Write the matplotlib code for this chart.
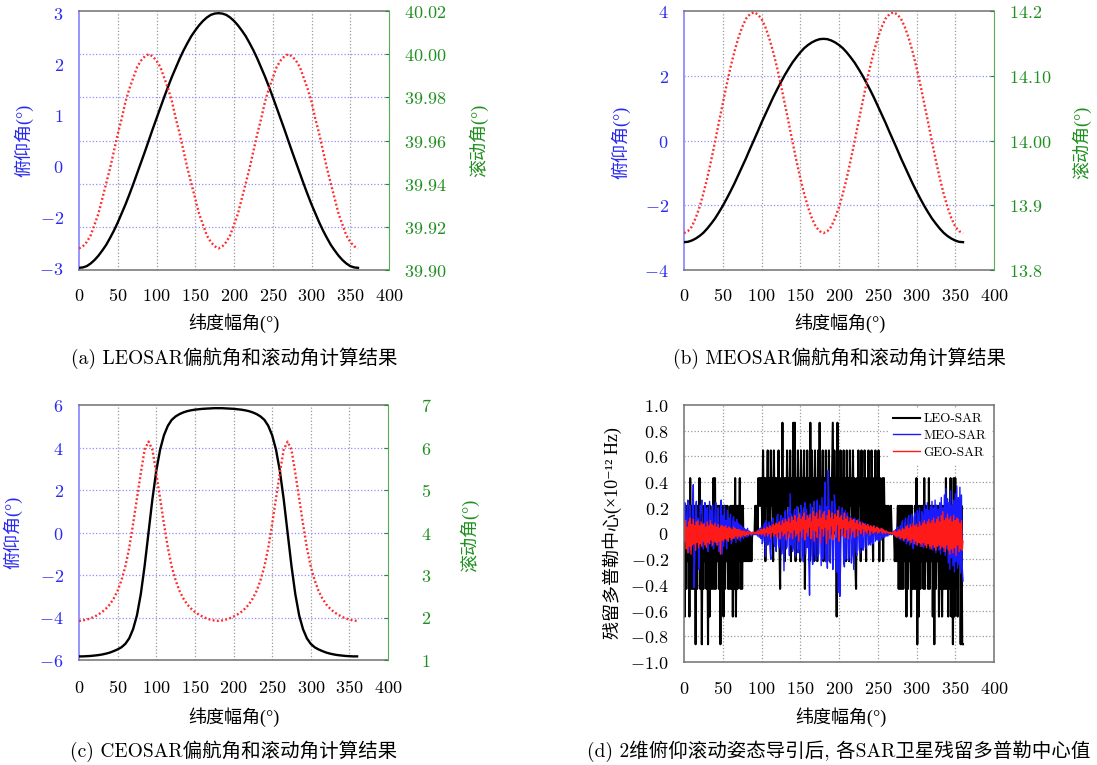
import numpy as np
import matplotlib.pyplot as plt

plt.rcParams['mathtext.fontset'] = 'cm'

FW, FH = 1097, 765
SERIF = ['cmr10', 'Noto Sans CJK SC', 'DejaVu Serif']
LABEL = ['Liberation Serif', 'Noto Sans CJK SC', 'DejaVu Serif']
BLUE, GREEN = '#2a2af0', '#1f8f1f'
LSPINE, RSPINE, FRAME = '#8c8cff', '#5aaa5a', '#707070'
HGRID, VGRID = '#8f8fff', '#9a9a9a'

# latitude argument, attitude curves sampled every 5 deg
U5 = np.arange(0, 361, 5)
XT = [0, 50, 100, 150, 200, 250, 300, 350, 400]

# (a) LEO-SAR pitch (left) and roll (right), deg
LEO_PITCH = [-2.95, -2.94, -2.91, -2.85, -2.77, -2.67, -2.55, -2.42, -2.26, -2.09,
             -1.90, -1.69, -1.48, -1.25, -1.01, -0.76, -0.51, -0.26, 0.00,
             0.26, 0.51, 0.76, 1.01, 1.25, 1.48, 1.69, 1.90, 2.09, 2.26, 2.42,
             2.55, 2.67, 2.77, 2.85, 2.91, 2.94, 2.95,
             2.94, 2.91, 2.85, 2.77, 2.67, 2.55, 2.42, 2.26, 2.09, 1.90, 1.69,
             1.48, 1.25, 1.01, 0.76, 0.51, 0.26, 0.00,
             -0.26, -0.51, -0.76, -1.01, -1.25, -1.48, -1.69, -1.90, -2.09, -2.26,
             -2.42, -2.55, -2.67, -2.77, -2.85, -2.91, -2.94, -2.95]
LEO_ROLL = [39.910, 39.911, 39.913, 39.916, 39.921, 39.926, 39.933, 39.940, 39.947, 39.955,
            39.963, 39.970, 39.978, 39.984, 39.989, 39.994, 39.997, 39.999, 40.000,
            39.999, 39.997, 39.994, 39.989, 39.984, 39.978, 39.970, 39.963, 39.955,
            39.947, 39.940, 39.933, 39.926, 39.921, 39.916, 39.913, 39.911, 39.910,
            39.911, 39.913, 39.916, 39.921, 39.926, 39.933, 39.940, 39.947, 39.955,
            39.963, 39.970, 39.978, 39.984, 39.989, 39.994, 39.997, 39.999, 40.000,
            39.999, 39.997, 39.994, 39.989, 39.984, 39.978, 39.970, 39.963, 39.955,
            39.947, 39.940, 39.933, 39.926, 39.921, 39.916, 39.913, 39.911, 39.910]

# (b) MEO-SAR
MEO_PITCH = [-3.14, -3.13, -3.09, -3.03, -2.95, -2.85, -2.72, -2.57, -2.41, -2.22,
             -2.02, -1.80, -1.57, -1.33, -1.07, -0.81, -0.55, -0.27, 0.00,
             0.27, 0.55, 0.81, 1.07, 1.33, 1.57, 1.80, 2.02, 2.22, 2.41, 2.57,
             2.72, 2.85, 2.95, 3.03, 3.09, 3.13, 3.14,
             3.13, 3.09, 3.03, 2.95, 2.85, 2.72, 2.57, 2.41, 2.22, 2.02, 1.80,
             1.57, 1.33, 1.07, 0.81, 0.55, 0.27, 0.00,
             -0.27, -0.55, -0.81, -1.07, -1.33, -1.57, -1.80, -2.02, -2.22, -2.41,
             -2.57, -2.72, -2.85, -2.95, -3.03, -3.09, -3.13, -3.14]
MEO_ROLL = [13.857, 13.860, 13.867, 13.880, 13.897, 13.918, 13.942, 13.969, 13.998, 14.028,
            14.057, 14.086, 14.113, 14.137, 14.158, 14.175, 14.188, 14.195, 14.198,
            14.195, 14.188, 14.175, 14.158, 14.137, 14.113, 14.086, 14.057, 14.028,
            13.998, 13.969, 13.942, 13.918, 13.897, 13.880, 13.867, 13.860, 13.857,
            13.860, 13.867, 13.880, 13.897, 13.918, 13.942, 13.969, 13.998, 14.028,
            14.057, 14.086, 14.113, 14.137, 14.158, 14.175, 14.188, 14.195, 14.198,
            14.195, 14.188, 14.175, 14.158, 14.137, 14.113, 14.086, 14.057, 14.028,
            13.998, 13.969, 13.942, 13.918, 13.897, 13.880, 13.867, 13.860, 13.857]

# (c) CEO-SAR
CEO_PITCH = [-5.83, -5.83, -5.82, -5.81, -5.79, -5.77, -5.74, -5.70, -5.65, -5.58,
             -5.50, -5.40, -5.24, -4.98, -4.55, -3.90, -2.90, -1.56, 0.00,
             1.56, 2.90, 3.90, 4.58, 5.02, 5.30, 5.46, 5.57, 5.65, 5.71, 5.75,
             5.78, 5.80, 5.82, 5.83, 5.84, 5.85, 5.85,
             5.85, 5.84, 5.83, 5.82, 5.80, 5.78, 5.75, 5.71, 5.65, 5.57, 5.46,
             5.30, 5.02, 4.58, 3.90, 2.90, 1.56, 0.00,
             -1.56, -2.90, -3.90, -4.55, -4.98, -5.24, -5.40, -5.50, -5.58, -5.65,
             -5.70, -5.74, -5.77, -5.79, -5.81, -5.82, -5.83, -5.83]
CEO_ROLL = [1.92, 1.93, 1.95, 1.98, 2.02, 2.07, 2.13, 2.21, 2.31, 2.45,
            2.63, 2.88, 3.20, 3.64, 4.20, 4.80, 5.40, 5.95, 6.14,
            5.95, 5.40, 4.80, 4.20, 3.64, 3.20, 2.88, 2.63, 2.45, 2.31, 2.21,
            2.13, 2.07, 2.02, 1.98, 1.95, 1.93, 1.92,
            1.93, 1.95, 1.98, 2.02, 2.07, 2.13, 2.21, 2.31, 2.45, 2.63, 2.88,
            3.20, 3.64, 4.20, 4.80, 5.40, 5.95, 6.14,
            5.95, 5.40, 4.80, 4.20, 3.64, 3.20, 2.88, 2.63, 2.45, 2.31,
            2.21, 2.13, 2.07, 2.02, 1.98, 1.95, 1.93, 1.92]

# (d) residual Doppler centroid, one sample per degree (0..360)
# LEO-SAR is quantised: digit d -> (d - 4) quantisation steps
LEO_Q = 0.2155
LEO_DIGITS = (
    "5152535162" "5242505253" "6250525352" "5051524262" "6253525052"
    "5152535242" "5251526152" "5362525343" "4343434344" "4454546565"
    "6474636574" "6475637464" "6474264846" "3647564736" "4848364756"
    "3746572647" "4638475637" "4637484657" "3647465736" "4684756184"
    "6374657463" "7463756474" "6326475637" "4647536474" "6475364746"
    "4736546364" "5454544544" "4434345252" "5252535152" "5351524252"
    "6051525352" "6253526253" "5150525351" "5241525262" "5152615061"
    "6251535050" "0")
# MEO / GEO in units of 0.01 (x1e-12 Hz)
MEO_CENT = [5, 24, 12, -8, 18, 26, -15, 2, 22, -12,
            -5, 14, 38, -42, -18, 20, 25, -6, 12, -28,
            -10, 22, 16, 26, -4, -12, 3, 24, -8, 10,
            20, -14, -5, 25, 0, 18, -10, 22, -12, -6,
            15, 24, -9, 2, 20, -14, -8, 12, 26, -16,
            14, -10, 22, -4, 10, -12, 18, -6, 12, -3,
            15, -8, -6, 10, 13, -4, 9, -7, 11, -2,
            8, -5, 7, -6, 6, -3, 5, -4, 4, -2,
            3, -3, 4, -2, 2, -1, 1, -2, 0, 1,
            -1, 0, 1, -1, 2, -2, 3, -3, 4, -4,
            5, -8, -5, 6, 8, -18, 10, 7, -9, -6,
            9, -12, -20, 8, 11, 12, -7, -10, 6, -14,
            13, 15, -9, -11, 10, 14, -16, -8, 12, -29,
            16, 18, -12, -10, 14, 20, -17, 31, -9, 15,
            -14, -11, 17, 19, -18, 13, 21, -15, -12, 16,
            -19, 22, 18, -13, -22, 15, 24, -16, 19, -11,
            14, -20, -48, 23, 20, -17, -24, 18, 25, -14,
            -21, 16, 26, -18, -15, 22, 19, -25, 28, -20,
            -16, 24, 40, -22, 21, -27, 49, 26, -19, -23,
            20, 25, -28, -18, 30, 22, -24, -30, 18, -46,
            21, -49, -25, 17, 20, 15, -22, -26, 18, -20,
            14, 16, -21, -18, 12, 13, -23, -15, 11, -28,
            12, 10, -14, -17, 9, 11, -12, -15, 8, -11,
            9, -13, -10, 7, 8, -12, 6, 7, -9, -8,
            6, -9, 5, -7, -8, 6, 4, -6, 5, -5,
            4, -6, -4, 3, 4, -5, 3, -3, 2, -3,
            2, -2, 1, -2, 1, -1, 1, 0, -1, 1,
            0, 2, -2, 3, -3, 4, 5, -3, -4, 6,
            -5, 8, 10, -4, -6, 9, 12, -8, -5, 11,
            14, -9, -7, 13, 15, -10, -12, 12, 16, -8,
            -9, 18, 15, -7, 20, -10, -8, 17, 14, -11,
            22, -9, 19, -10, 24, -7, 18, -12, 21, -10,
            25, -13, 20, -11, 26, -15, 22, -9, 19, -13,
            24, -16, 28, -11, 20, -14, 30, -17, 35, -12,
            27, -23, 24, -28, 33, -19, 22, -25, 26, -30,
            31, -22, 37, -27, 28, -24, 36, -31, 30, -26,
            -37]
GEO_CENT = [8, -6, 10, -12, 5, -15, 9, -10, 12, -16,
            7, -9, 11, -8, 6, -13, 9, -7, 10, -11,
            6, -8, 9, -10, 7, -6, 8, -9, 5, -11,
            9, -7, 6, -8, 10, -5, 7, -9, 6, -6,
            8, -7, 5, -9, 7, -6, 4, -16, 6, -5,
            6, -6, 5, -4, 6, -5, 4, -6, 5, -3,
            4, -5, 3, -4, 5, -3, 4, -2, 3, -4,
            3, -2, 3, -3, 2, -2, 2, -1, 2, -2,
            1, -1, 2, -1, 1, 0, 1, -1, 0, 1,
            0, 1, 0, 1, 0, 2, -1, 2, 0, 3,
            -1, 3, 0, 4, -2, 3, 1, 5, -2, 4,
            0, 6, -3, 5, 1, 7, -2, 6, 0, 8,
            -3, 7, 1, 9, -4, 6, 2, 10, -2, 8,
            0, 11, -5, 9, 2, 12, -3, 8, 1, 13,
            -4, 10, 3, 14, -2, 9, 0, 12, -6, 15,
            2, 11, -3, 13, 4, 16, -5, 10, 1, 14,
            -2, 12, 5, 15, -4, 9, 3, 17, -6, 13,
            2, 16, -3, 11, 6, 18, -7, 12, 4, 15,
            -2, 17, 5, 10, -8, 14, 3, 18, -4, 12,
            6, 16, -5, 11, 2, 15, -3, 13, 7, 18,
            -6, 12, 4, 14, -2, 10, 5, 16, -3, 11,
            3, 13, -4, 9, 5, 12, -1, 10, 2, 11,
            -3, 8, 4, 10, -2, 7, 3, 9, 0, 6,
            4, 8, -1, 7, 2, 6, 0, 7, 3, 5,
            -1, 6, 2, 5, 0, 6, 1, 4, 2, 5,
            0, 4, 1, 3, 2, 4, 0, 3, 1, 2,
            0, 2, 1, 1, 0, 1, 0, 1, 0, 0,
            1, -1, 2, -2, 1, -3, 2, -2, 3, -4,
            2, -3, 4, -5, 3, -4, 5, -3, 6, -6,
            4, -5, 7, -7, 5, -4, 8, -8, 6, -6,
            7, -9, 5, -7, 9, -8, 6, -10, 8, -7,
            10, -9, 7, -11, 9, -8, 11, -10, 8, -12,
            10, -9, 12, -11, 8, -13, 11, -10, 13, -9,
            9, -12, 14, -10, 17, -11, 10, -14, 12, -9,
            15, -13, 11, -16, 13, -12, 9, -15, 14, -11,
            10, -17, 12, -9, 11, -14, 8, -12, 10, -13,
            -6]

fig = plt.figure(figsize=(FW / 100, FH / 100), dpi=100)


def box(l, t, r, b):
    return [l / FW, 1 - b / FH, (r - l) / FW, (b - t) / FH]


def ftext(x, y, s, size=13, family=SERIF, **kw):
    fig.text(x / FW, 1 - y / FH, s, ha='center', va='center',
             fontfamily=family, fontsize=size, **kw)


def tex(s):
    return '$' + s.replace('−', '-') + '$'


def xaxis_setup(ax, pad):
    ax.set_xlim(0, 400)
    ax.set_xticks(XT)
    ax.set_xticklabels([tex(str(v)) for v in XT])
    ax.tick_params(axis='x', length=0, labelsize=13, pad=pad)
    for v in XT[1:-1]:
        ax.axvline(v, color=VGRID, ls=':', lw=0.9, zorder=0.5)


def attitude(rect, pitch, roll, ylim, lpos, llab, rlim, rtick, rlab, grid, rpad, xpad):
    ax = fig.add_axes(rect)
    ax2 = ax.twinx()
    xaxis_setup(ax, xpad)
    for g in grid:
        ax.axhline(g, color=HGRID, ls=':', lw=0.9, zorder=0.5)
    ax.plot(U5, pitch, color='k', lw=1.7, zorder=3)
    ax2.plot(U5, roll, color='#ff2b2b', lw=1.7, ls=(0, (0.8, 1.0)))
    ax.set_ylim(*ylim)
    ax.set_yticks(lpos)
    ax.set_yticklabels([tex(s) for s in llab])
    ax.tick_params(axis='y', direction='in', length=0, colors=BLUE,
                   labelsize=13, pad=11)
    ax2.set_ylim(*rlim)
    ax2.set_yticks(rtick)
    ax2.set_yticklabels([tex(s) for s in rlab])
    ax2.tick_params(axis='y', direction='in', length=3, colors=GREEN,
                    labelsize=13, pad=rpad)
    ax.spines['right'].set_visible(False)
    ax.spines['left'].set_color(LSPINE)
    ax.spines['left'].set_linewidth(1.3)
    for s in ('top', 'bottom'):
        ax.spines[s].set_color(FRAME)
        ax.spines[s].set_linewidth(1.1)
    for s in ('left', 'top', 'bottom'):
        ax2.spines[s].set_visible(False)
    ax2.spines['right'].set_color(RSPINE)
    return ax


# (a) LEO-SAR
attitude(box(79, 11, 389, 270), LEO_PITCH, LEO_ROLL, (-3, 3),
         np.linspace(2.95, -2.95, 6), ['3', '2', '1', '0', '−2', '−3'],
         (39.90, 40.02), [39.90, 39.92, 39.94, 39.96, 39.98, 40.00, 40.02],
         ['39.90', '39.92', '39.94', '39.96', '39.98', '40.00', '40.02'],
         [-2, -1, 0, 1, 2], 11, 12)
ftext(24, 140, '俯仰角(°)', family=LABEL, color=BLUE, rotation=90)
ftext(479, 140, '滚动角(°)', family=LABEL, color=GREEN, rotation=90)
ftext(234, 323, '纬度幅角(°)', family=LABEL)
ftext(234, 358, '(a) LEOSAR偏航角和滚动角计算结果', size=14)

# (b) MEO-SAR
attitude(box(684, 11, 994, 270), MEO_PITCH, MEO_ROLL, (-4, 4),
         [-4, -2, 0, 2, 4], ['−4', '−2', '0', '2', '4'],
         (13.8, 14.2), [13.8, 13.9, 14.0, 14.1, 14.2],
         ['13.8', '13.9', '14.00', '14.10', '14.2'],
         [-2, 0, 2], 11, 12)
ftext(621, 142, '俯仰角(°)', family=LABEL, color=BLUE, rotation=90)
ftext(1082, 142, '滚动角(°)', family=LABEL, color=GREEN, rotation=90)
ftext(840, 323, '纬度幅角(°)', family=LABEL)
ftext(839, 358, '(b) MEOSAR偏航角和滚动角计算结果', size=14)

# (c) CEO-SAR
attitude(box(79, 405, 388, 660), CEO_PITCH, CEO_ROLL, (-6, 6),
         [-6, -4, -2, 0, 2, 4, 6], ['−6', '−4', '−2', '0', '2', '4', '6'],
         (1, 7), [1, 2, 3, 4, 5, 6, 7], ['1', '2', '3', '4', '5', '6', '7'],
         [-4, -2, 0, 2, 4], 24, 14)
ftext(13, 532, '俯仰角(°)', family=LABEL, color=BLUE, rotation=90)
ftext(470, 535, '滚动角(°)', family=LABEL, color=GREEN, rotation=90)
ftext(234, 717, '纬度幅角(°)', family=LABEL)
ftext(234, 751, '(c) CEOSAR偏航角和滚动角计算结果', size=14)

# (d) residual Doppler centroid after 2-D steering
ax = fig.add_axes(box(684, 405, 994, 662))
xaxis_setup(ax, 13)
dyt = [-1.0, -0.8, -0.6, -0.4, -0.2, 0, 0.2, 0.4, 0.6, 0.8, 1.0]
dyl = ['−1.0', '−0.8', '−0.6', '−0.4', '−0.2', '0', '0.2', '0.4', '0.6', '0.8', '1.0']
for g in dyt[1:-1]:
    ax.axhline(g, color=VGRID, ls=':', lw=0.9, zorder=0.5)
leo = (np.array([int(c) for c in LEO_DIGITS]) - 4) * LEO_Q
meo = np.array(MEO_CENT) / 100
geo = np.array(GEO_CENT) / 100
ax.plot(np.arange(len(leo)), leo, color='k', lw=1.5, label='LEO-SAR')
ax.plot(np.arange(len(meo)), meo, color='#1a1aff', lw=1.0, label='MEO-SAR')
ax.plot(np.arange(len(geo)), geo, color='#ff1a1a', lw=1.0, label='GEO-SAR')
ax.set_ylim(-1.0, 1.0)
ax.set_yticks(dyt)
ax.set_yticklabels([tex(s) for s in dyl])
ax.tick_params(axis='y', length=0, labelsize=13, pad=11)
for s in ax.spines.values():
    s.set_color(FRAME)
    s.set_linewidth(1.1)
ax.legend(loc='upper right', prop={'family': 'cmr10', 'size': 9.5},
          frameon=True, fancybox=False, edgecolor='white', framealpha=1,
          handlelength=2.0, handletextpad=0.3, labelspacing=0.35,
          borderaxespad=0.3, borderpad=0.3)
ftext(612, 533, '残留多普勒中心(×10⁻¹² Hz)', family=LABEL, rotation=90)
ftext(841, 717, '纬度幅角(°)', family=LABEL)
ftext(839, 751, '(d) 2维俯仰滚动姿态导引后, 各SAR卫星残留多普勒中心值', size=14)

fig.savefig('out.png', dpi=100)
